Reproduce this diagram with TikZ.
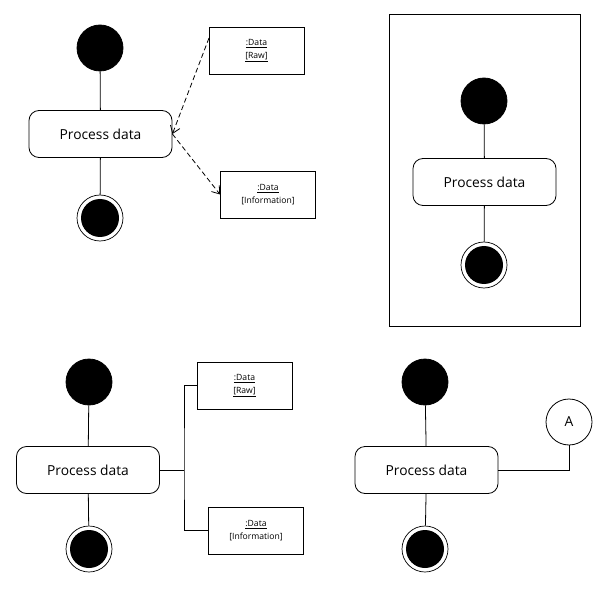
\documentclass[tikz,border=0pt]{standalone}
\usepackage{fontspec}
\setmainfont{Open Sans}
\usetikzlibrary{arrows.meta}
\begin{document}
\begin{tikzpicture}[x=1pt,y=-1pt,
  line width=0.8pt,
  init/.style={circle,fill=black,draw=black,minimum size=46pt,inner sep=0pt},
  fin/.style={circle,draw=black,line width=0.7pt,minimum size=46pt,inner sep=0pt,
     path picture={\fill[black] (path picture bounding box.center) circle (19pt);}},
  act/.style={draw=black,rounded corners=10pt,minimum width=143pt,minimum height=47pt,inner sep=0pt,font=\fontsize{13.8}{16}\selectfont},
  obj/.style={draw=black,minimum width=95pt,minimum height=47pt,inner sep=0pt,align=center,font=\fontsize{8.6}{12.5}\selectfont},
  conn/.style={circle,draw=black,minimum size=46pt,inner sep=0pt,font=\fontsize{13.8}{16}\selectfont},
  flow/.style={draw=black,line width=0.8pt},
  dep/.style={draw=black,line width=0.8pt,dash pattern=on 5pt off 3pt,-{Straight Barb[length=7pt,width=10pt]}}
]
\useasboundingbox (0,0) rectangle (604,601);

% Panel 1
\node[init] (i1) at (100,48) {};
\node[act] (a1) at (100.5,134) {Process data};
\node[fin] (f1) at (100,218) {};
\node[obj] (r1) at (256.5,50.5) {\underline{:Data}\\\underline{[Raw]}};
\node[obj] (n1) at (268,194.5) {\underline{:Data}\\{[Information]}};
\draw[flow] (i1) -- (a1);
\draw[flow] (a1) -- (f1);
\coordinate (r1s) at (209,38);
\draw[dep] (r1s) -- (a1.east);
\draw[dep] (a1.east) -- (n1.west);

% Panel 2
\node[draw=black,minimum width=191pt,minimum height=312pt,inner sep=0pt] (frame) at (484.5,170) {};
\node[init] (i2) at (484,101) {};
\node[act] (a2) at (484.5,182) {Process data};
\node[fin] (f2) at (484,265) {};
\draw[flow] (i2) -- (a2);
\draw[flow] (a2) -- (f2);

% Panel 3
\node[init] (i3) at (89,382) {};
\node[act] (a3) at (88,470) {Process data};
\node[fin] (f3) at (89,549) {};
\node[obj] (r3) at (244.5,385.5) {\underline{:Data}\\\underline{[Raw]}};
\node[obj] (n3) at (256,530.5) {\underline{:Data}\\{[Information]}};
\draw[flow] (i3) -- (a3);
\draw[flow] (a3) -- (f3);
\coordinate (j3) at (184,470);
\draw[flow] (a3.east) -- (j3);
\draw[flow] (r3.west) -| (j3) |- (n3.west);

% Panel 4
\node[init] (i4) at (425,382) {};
\node[act] (a4) at (426.5,470) {Process data};
\node[fin] (f4) at (425,549) {};
\node[conn] (c4) at (569,422) {A};
\draw[flow] (i4) -- (a4);
\draw[flow] (a4) -- (f4);
\draw[flow] (a4.east) -| (c4.south);
\end{tikzpicture}
\end{document}
